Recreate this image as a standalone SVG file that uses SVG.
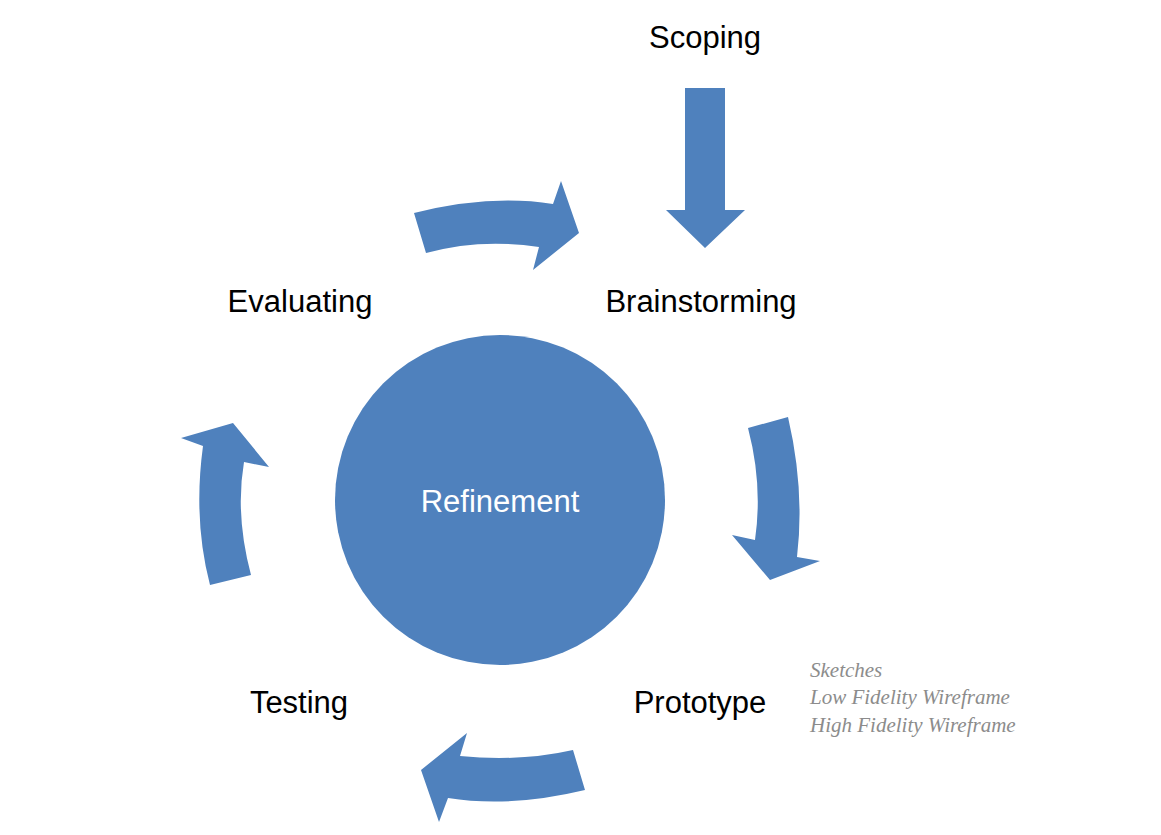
<svg xmlns="http://www.w3.org/2000/svg" width="1161" height="835" viewBox="0 0 1161 835">
<style>
.a{fill:#4F81BD}
.t{font-family:"Liberation Sans",Arial,sans-serif;font-size:31px;fill:#000;text-anchor:middle}
.n{font-family:"Liberation Serif",serif;font-style:italic;font-size:21px;fill:#8c8c8c}
</style>
<rect width="1161" height="835" fill="#fff"/>
<g id="connectors">
<path class="a" d="M685,88 H725 V210 H745 L705,248 L666,210 H685 Z"/>
<path class="a" d="M414,213 Q490,194 553,204 L561,181 L579,233 L533,270 L539,247 Q480,238 426,253 Z"/>
<path class="a" d="M748,428 L788,417 Q805,490 797,557 L820,561 L770,580 L732,535 L755,540 Q763,485 748,428 Z"/>
<path class="a" d="M573,750 L585,790 Q510,808 448,798 L439,822 L421,770 L467,733 L460,756 Q520,762 573,750 Z"/>
<path class="a" d="M210,585 L251,575 Q235,515 244,462 L269,467 L233,423 L181,438 L203,446 Q193,520 210,585 Z"/>
</g>
<g id="refinement"><circle class="a" cx="500" cy="500" r="165"/>
<text class="t" x="500" y="512" fill="#fff" style="fill:#fff">Refinement</text></g>
<g id="scoping"><text class="t" x="705" y="48">Scoping</text></g>
<g id="brainstorming"><text class="t" x="701" y="312">Brainstorming</text></g>
<g id="evaluating"><text class="t" x="300" y="312">Evaluating</text></g>
<g id="prototype"><text class="t" x="700" y="713">Prototype</text></g>
<g id="testing"><text class="t" x="299" y="713">Testing</text></g>
<g id="notes"><text class="n" x="810" y="677">Sketches</text>
<text class="n" x="810" y="704">Low Fidelity Wireframe</text>
<text class="n" x="810" y="732">High Fidelity Wireframe</text></g>
</svg>
